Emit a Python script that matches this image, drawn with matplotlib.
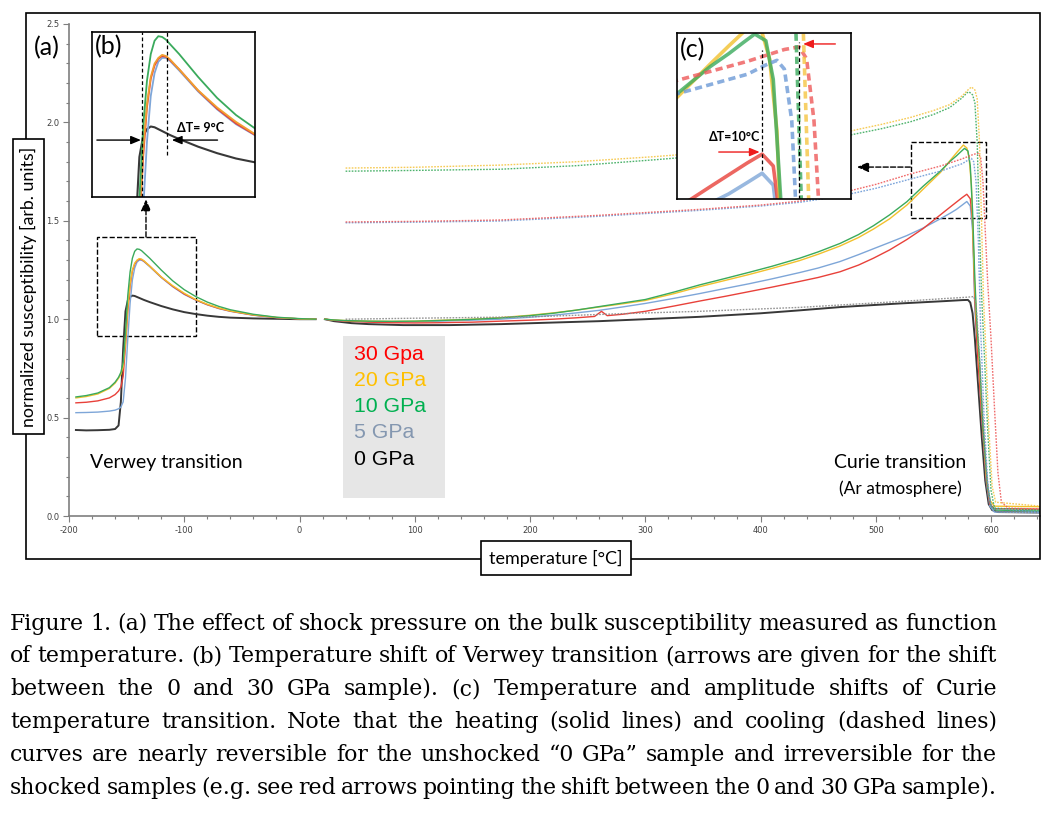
import matplotlib
matplotlib.use('Agg')
import matplotlib.pyplot as plt
from matplotlib.patches import Rectangle
from matplotlib.ticker import MultipleLocator

plt.rcParams['axes.unicode_minus'] = False

W, H = 1050, 822

# ---- heating, low temperature branch (shared temperature grid) ----
t_lo = [-194, -185, -175, -165, -160, -157, -155, -153, -151, -149, -147, -145, -143,
        -141, -139, -137, -135, -130, -120, -110, -100, -90, -80, -70, -60, -40, -20, 0, 14]
lo_0 = [0.437, 0.435, 0.436, 0.438, 0.442, 0.46, 0.58, 0.85, 1.04, 1.095, 1.113, 1.12, 1.118,
        1.113, 1.108, 1.103, 1.098, 1.087, 1.067, 1.05, 1.036, 1.026, 1.018, 1.012, 1.008, 1.004, 1.002, 1.0, 1.0]
lo_5 = [0.525, 0.526, 0.528, 0.533, 0.538, 0.545, 0.553, 0.58, 0.70, 0.90, 1.08, 1.20, 1.26,
        1.29, 1.30, 1.30, 1.293, 1.267, 1.212, 1.165, 1.126, 1.097, 1.073, 1.054, 1.04, 1.02, 1.008, 1.002, 1.0]
lo_10 = [0.605, 0.612, 0.625, 0.652, 0.68, 0.705, 0.73, 0.78, 0.93, 1.12, 1.24, 1.31, 1.345,
         1.357, 1.355, 1.348, 1.337, 1.31, 1.25, 1.195, 1.15, 1.115, 1.087, 1.065, 1.048, 1.025, 1.01, 1.003, 1.0]
lo_20 = [0.600, 0.607, 0.62, 0.648, 0.675, 0.70, 0.72, 0.76, 0.88, 1.06, 1.18, 1.25, 1.285,
         1.30, 1.308, 1.305, 1.297, 1.27, 1.215, 1.17, 1.132, 1.10, 1.076, 1.057, 1.042, 1.022, 1.009, 1.002, 1.0]
lo_30 = [0.575, 0.578, 0.585, 0.60, 0.617, 0.635, 0.655, 0.71, 0.86, 1.04, 1.17, 1.245, 1.28,
         1.298, 1.305, 1.303, 1.295, 1.27, 1.214, 1.167, 1.128, 1.098, 1.074, 1.055, 1.041, 1.021, 1.008, 1.002, 1.0]

# ---- heating, high temperature branch ----
t_hi_0 = [22, 30, 45, 60, 90, 130, 175, 220, 260, 300, 347, 400, 434, 470, 521, 560, 575, 580,
          582, 584, 586, 589, 592, 595, 598, 601, 606, 643]
hi_0 = [1.0, 0.99, 0.98, 0.975, 0.97, 0.97, 0.975, 0.983, 0.99, 1.0, 1.012, 1.03, 1.045, 1.062,
        1.08, 1.092, 1.097, 1.098, 1.085, 1.03, 0.9, 0.65, 0.4, 0.18, 0.06, 0.03, 0.02, 0.018]

t_hi_10 = [22, 30, 40, 60, 80, 100, 120, 150, 174, 200, 220, 240, 260, 280, 300, 325, 347, 370,
           390, 410, 434, 450, 469, 485, 498, 512, 527, 541, 556, 565, 570, 574, 577, 580, 582,
           584, 586, 588, 590, 593, 597, 600, 604, 643]
hi_10 = [1.0, 0.996, 0.993, 0.99, 0.989, 0.99, 0.993, 0.999, 1.006, 1.018, 1.03, 1.046, 1.064,
         1.082, 1.10, 1.138, 1.174, 1.208, 1.238, 1.269, 1.31, 1.342, 1.385, 1.43, 1.475, 1.53,
         1.597, 1.675, 1.752, 1.805, 1.83, 1.852, 1.868, 1.855, 1.78, 1.55, 1.2, 0.95, 0.8, 0.45,
         0.15, 0.05, 0.03, 0.025]

t_hi_20 = [22, 30, 40, 60, 80, 100, 120, 150, 174, 200, 220, 240, 260, 280, 300, 325, 347, 370,
           390, 410, 434, 450, 469, 485, 498, 512, 527, 541, 556, 565, 570, 574, 576, 579, 581,
           583, 585, 587, 589, 592, 596, 599, 603, 643]
hi_20 = [1.0, 0.996, 0.993, 0.99, 0.989, 0.99, 0.994, 1.0, 1.008, 1.02, 1.032, 1.046, 1.062,
         1.078, 1.095, 1.13, 1.165, 1.198, 1.227, 1.258, 1.298, 1.33, 1.372, 1.415, 1.458, 1.51,
         1.58, 1.66, 1.745, 1.81, 1.845, 1.872, 1.885, 1.87, 1.82, 1.68, 1.3, 1.02, 0.85, 0.55,
         0.2, 0.08, 0.05, 0.047]

t_hi_5 = [22, 30, 40, 60, 80, 100, 120, 150, 174, 200, 220, 240, 260, 280, 300, 325, 347, 370,
          390, 410, 434, 450, 469, 485, 498, 512, 527, 541, 556, 565, 570, 575, 579, 582, 584,
          586, 588, 592, 596, 599, 603, 643]
hi_5 = [1.0, 0.995, 0.99, 0.987, 0.986, 0.987, 0.99, 0.995, 1.0, 1.01, 1.02, 1.032, 1.045,
        1.062, 1.08, 1.106, 1.13, 1.157, 1.18, 1.205, 1.237, 1.26, 1.293, 1.328, 1.358, 1.39,
        1.425, 1.463, 1.51, 1.54, 1.558, 1.58, 1.598, 1.575, 1.45, 1.05, 0.85, 0.5, 0.17,
        0.05, 0.02, 0.017]

t_hi_30 = [22, 30, 40, 60, 80, 100, 120, 150, 174, 200, 220, 240, 256, 262, 267, 280, 300, 325,
           347, 370, 390, 410, 434, 450, 469, 485, 498, 512, 527, 541, 556, 565, 570, 575, 579,
           582, 584, 586, 588, 592, 596, 599, 603, 643]
hi_30 = [1.0, 0.994, 0.99, 0.985, 0.982, 0.981, 0.982, 0.985, 0.99, 0.995, 1.0, 1.007, 1.014,
         1.04, 1.018, 1.025, 1.04, 1.067, 1.092, 1.117, 1.14, 1.163, 1.192, 1.212, 1.241, 1.275,
         1.31, 1.352, 1.405, 1.46, 1.53, 1.572, 1.595, 1.618, 1.635, 1.612, 1.5, 1.1, 0.85, 0.5,
         0.18, 0.06, 0.037, 0.035]

# ---- cooling curves ----
t_co_0 = [40, 100, 200, 290, 347, 434, 521, 560, 580, 585, 587, 589, 592, 595, 598, 601, 606, 643]
co_0 = [1.0, 1.005, 1.012, 1.03, 1.04, 1.06, 1.09, 1.105, 1.112, 1.115, 1.08, 0.9, 0.6, 0.3, 0.1,
        0.04, 0.02, 0.017]
t_co_5 = [40, 100, 174, 260, 347, 400, 434, 469, 500, 530, 556, 575, 580, 583, 585, 587, 589,
          591, 594, 597, 600, 643]
co_5 = [1.49, 1.493, 1.499, 1.523, 1.553, 1.575, 1.594, 1.625, 1.665, 1.712, 1.752, 1.79, 1.808,
        1.817, 1.8, 1.7, 1.4, 0.95, 0.5, 0.18, 0.04, 0.02]
t_co_10 = [40, 100, 174, 240, 308, 360, 400, 440, 477, 505, 530, 550, 564, 575, 579, 581, 584,
           586, 588, 590, 592, 594, 597, 600, 603, 643]
co_10 = [1.752, 1.756, 1.762, 1.78, 1.81, 1.835, 1.858, 1.892, 1.935, 1.968, 2.003, 2.04, 2.075,
         2.125, 2.15, 2.155, 2.14, 2.1, 1.9, 1.45, 1.1, 0.85, 0.45, 0.13, 0.04, 0.03]
t_co_20 = [40, 100, 174, 240, 308, 360, 400, 440, 477, 505, 530, 550, 564, 575, 580, 583, 586,
           588, 590, 592, 593.5, 595.5, 598, 601, 604, 643]
co_20 = [1.768, 1.772, 1.783, 1.80, 1.826, 1.85, 1.875, 1.91, 1.955, 1.99, 2.025, 2.06, 2.09,
         2.135, 2.165, 2.18, 2.165, 2.12, 1.9, 1.45, 1.1, 0.85, 0.45, 0.15, 0.07, 0.05]
t_co_30 = [40, 100, 174, 260, 347, 400, 434, 469, 500, 530, 556, 575, 585, 589, 591, 593, 595,
           597, 600, 603, 606, 609, 615, 643]
co_30 = [1.494, 1.497, 1.504, 1.528, 1.558, 1.58, 1.6, 1.64, 1.685, 1.738, 1.778, 1.815, 1.838,
         1.843, 1.82, 1.7, 1.45, 1.2, 0.9, 0.55, 0.22, 0.07, 0.04, 0.035]

legend_labels = ['30 Gpa', '20 GPa', '10 GPa', '5 GPa', '0 GPa']
legend_colors = ['#ff0000', '#ffc000', '#00b050', '#8497b0', '#000000']

caption = [
    "Figure 1. (a) The effect of shock pressure on the bulk susceptibility measured as function",
    "of temperature. (b) Temperature shift of Verwey transition (arrows are given for the shift",
    "between the 0 and 30 GPa sample). (c) Temperature and amplitude shifts of Curie",
    "temperature transition. Note that the heating (solid lines) and cooling (dashed lines)",
    "curves are nearly reversible for the unshocked \u201c0 GPa\u201d sample and irreversible for the",
    "shocked samples (e.g. see red arrows pointing the shift between the 0 and 30 GPa sample).",
]

c_red, c_yel, c_grn, c_blu, c_blk = '#e8413a', '#f2c12e', '#3aaa5c', '#7ea6d8', '#383838'

heating = [(t_lo, lo_0, t_hi_0, hi_0, c_blk),
           (t_lo, lo_5, t_hi_5, hi_5, c_blu),
           (t_lo, lo_30, t_hi_30, hi_30, c_red),
           (t_lo, lo_20, t_hi_20, hi_20, c_yel),
           (t_lo, lo_10, t_hi_10, hi_10, c_grn)]
cooling = [(t_co_0, co_0, '#8a8a8a'), (t_co_5, co_5, '#6d9ad6'), (t_co_30, co_30, '#ee5a5a'),
           (t_co_10, co_10, '#3aaa5c'), (t_co_20, co_20, '#f5c542')]


def fx(px):
    return px / W


def fy(py):
    return 1 - py / H


fig = plt.figure(figsize=(W / 100, H / 100), dpi=100)
fig.patch.set_facecolor('white')

# ---------------- main axes ----------------
ax = fig.add_axes([fx(69), fy(516), fx(1040) - fx(69), fy(24) - fy(516)])
for tl, yl, th, yh, c in heating:
    lw = 1.4 if c == c_blk else 1.0
    ax.plot(tl, yl, color=c, lw=lw)
    ax.plot(th, yh, color=c, lw=lw)
for tc, yc, c in cooling:
    ax.plot(tc, yc, color=c, lw=1.0, ls=(0, (1.2, 1.0)), alpha=0.9)

ax.set_xlim(-200, 642.5)
ax.set_ylim(0, 2.5)
ax.xaxis.set_major_locator(MultipleLocator(100))
ax.xaxis.set_minor_locator(MultipleLocator(20))
ax.yaxis.set_major_locator(MultipleLocator(0.5))
ax.yaxis.set_minor_locator(MultipleLocator(0.1))
ax.yaxis.set_major_formatter(plt.FormatStrFormatter('%.1f'))
for s in ['top', 'right']:
    ax.spines[s].set_visible(False)
for s in ['left', 'bottom']:
    ax.spines[s].set_color('#7f7f7f')
    ax.spines[s].set_linewidth(1.2)
ax.tick_params(which='major', length=4, width=0.8, color='#7f7f7f', labelsize=6,
               labelcolor='#404040', direction='out', pad=3)
ax.tick_params(which='minor', length=2.5, width=0.8, color='#7f7f7f', direction='out')

# zoom boxes and arrows to the insets
ax.add_patch(Rectangle((-175.7, 0.915), 85.8, 0.503, fill=False, ls='--', lw=1, ec='k'))
ax.add_patch(Rectangle((531, 1.514), 65, 0.386, fill=False, ls='--', lw=1, ec='k'))
ax.annotate('', xy=(-133.2, 1.61), xytext=(-133.2, 1.418),
            arrowprops=dict(arrowstyle='-|>,head_length=0.7,head_width=0.3', color='k',
                            lw=1, ls='--', shrinkA=0, shrinkB=0))
ax.annotate('', xy=(483.7, 1.773), xytext=(530, 1.773),
            arrowprops=dict(arrowstyle='-|>,head_length=0.7,head_width=0.3', color='k',
                            lw=1, ls='--', shrinkA=0, shrinkB=0))

# ---------------- inset (b) ----------------
axb = fig.add_axes([fx(92), fy(197), fx(255) - fx(92), fy(32) - fy(197)])
for tl, yl, th, yh, c in heating:
    cc = '#f0a030' if c == c_yel else c
    axb.plot(tl, yl, color=cc, lw=1.5 if c == c_blk else 1.3)
axb.set_xlim(-176, -90)
axb.set_ylim(0.935, 1.368)
axb.set_xticks([])
axb.set_yticks([])
for s in axb.spines.values():
    s.set_linewidth(1.2)
axb.axvline(-149.5, color='k', lw=0.9, ls=(0, (3, 2)))
axb.axvline(-136.5, ymin=0.255, color='k', lw=0.9, ls=(0, (3, 2)))
axb.annotate('', xy=(0.30, 0.345), xytext=(0.03, 0.345), xycoords='axes fraction',
             arrowprops=dict(arrowstyle='-|>,head_length=0.6,head_width=0.25', color='k', lw=1,
                             shrinkA=0, shrinkB=0))
axb.annotate('', xy=(0.49, 0.345), xytext=(0.77, 0.345), xycoords='axes fraction',
             arrowprops=dict(arrowstyle='-|>,head_length=0.6,head_width=0.25', color='k', lw=1,
                             shrinkA=0, shrinkB=0))
axb.text(0.52, 0.42, '\u0394T= 9\u00b0C', transform=axb.transAxes, fontsize=9,
         fontweight='bold', family='Lato', va='center')
axb.text(0.015, 0.91, '(b)', transform=axb.transAxes, fontsize=18, family='Lato', va='center')

# ---------------- inset (c) ----------------
axc = fig.add_axes([fx(677), fy(199), fx(851) - fx(677), fy(33) - fy(199)])
for tl, yl, th, yh, c in heating:
    axc.plot(th, yh, color=c, lw=2.6, alpha=0.8)
for tc, yc, c in cooling:
    axc.plot(tc, yc, color=c, lw=2.6, ls=(0, (2.0, 1.2)), alpha=0.8)
axc.set_xlim(556, 603)
axc.set_ylim(1.548, 1.87)
axc.set_xticks([])
axc.set_yticks([])
for s in axc.spines.values():
    s.set_linewidth(1.2)
axc.axvline(579, ymin=0.175, ymax=0.898, color='k', lw=0.9, ls=(0, (3, 2)))
axc.axvline(589, ymin=0.0, ymax=0.946, color='k', lw=0.9, ls=(0, (3, 2)))
axc.annotate('', xy=(0.475, 0.283), xytext=(0.24, 0.283), xycoords='axes fraction',
             arrowprops=dict(arrowstyle='-|>,head_length=0.6,head_width=0.25', color='#ee1c1c',
                             lw=1, shrinkA=0, shrinkB=0))
axc.annotate('', xy=(0.725, 0.934), xytext=(0.91, 0.934), xycoords='axes fraction',
             arrowprops=dict(arrowstyle='-|>,head_length=0.6,head_width=0.25', color='#ee1c1c',
                             lw=1, shrinkA=0, shrinkB=0))
axc.text(0.48, 0.375, '\u0394T=10\u00b0C', transform=axc.transAxes, fontsize=9,
         fontweight='bold', family='Lato', va='center', ha='right')
axc.text(0.015, 0.9, '(c)', transform=axc.transAxes, fontsize=18, family='Lato', va='center')

# ---------------- frame, labels, legend ----------------
fig.add_artist(Rectangle((fx(26), fy(559)), fx(1040) - fx(26), fy(13) - fy(559),
                         transform=fig.transFigure, fill=False, ec='k', lw=1.2))
fig.text(fx(47), fy(48), '(a)', fontsize=18, family='Lato', ha='center', va='center')
fig.text(fx(28.5), fy(286.5), 'normalized susceptibility [arb. units]', rotation=90,
         ha='center', va='center', fontsize=12.8, family='Lato',
         bbox=dict(boxstyle='square,pad=0.42', fc='white', ec='black', lw=1.2))
fig.text(fx(556), fy(558), 'temperature [\u00b0C]', ha='center', va='center',
         fontsize=13, family='Lato',
         bbox=dict(boxstyle='square,pad=0.45', fc='white', ec='black', lw=1.2))
fig.text(fx(166), fy(462), 'Verwey transition', ha='center', va='center', fontsize=14, family='Lato')
fig.text(fx(900), fy(462), 'Curie transition', ha='center', va='center', fontsize=14, family='Lato')
fig.text(fx(900), fy(489), '(Ar atmosphere)', ha='center', va='center', fontsize=12.5, family='Lato')

fig.add_artist(Rectangle((fx(343), fy(498)), fx(445) - fx(343), fy(336) - fy(498),
                         transform=fig.transFigure, fc='#e6e6e6', ec='none'))
for i, (lab, col) in enumerate(zip(legend_labels, legend_colors)):
    fig.text(fx(354), fy(354 + 26.3 * i), lab, color=col, fontsize=15.3,
             family='Liberation Sans', va='center', ha='left')

# ---------------- justified caption ----------------
renderer = fig.canvas.get_renderer()
x_left, x_right = 10, 997
for i, line in enumerate(caption):
    words = line.split(' ')
    texts = [fig.text(0, 0, w, fontsize=15.8, family='DejaVu Serif', va='baseline') for w in words]
    widths = [t.get_window_extent(renderer).width for t in texts]
    gap = (x_right - x_left - sum(widths)) / (len(words) - 1)
    x = x_left
    for t, w in zip(texts, widths):
        t.set_position((fx(x), fy(629.5 + 32.8 * i)))
        x += w + gap

fig.savefig('out.png', dpi=100)
